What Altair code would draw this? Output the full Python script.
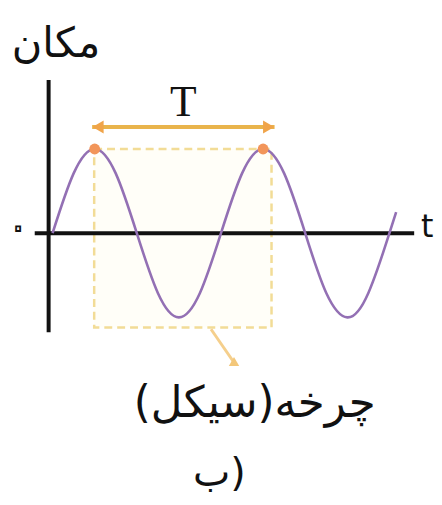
import altair as alt
import pandas as pd

# ---- data (chart units: t in periods, position in amplitudes) ----
wave_t = [0, 0.125, 0.25, 0.375, 0.5, 0.625, 0.75, 0.875, 1.0,
          1.125, 1.25, 1.375, 1.5, 1.625, 1.75, 1.875, 2.0, 2.04]
wave_y = [0, 0.71, 1.0, 0.71, 0, -0.71, -1.0, -0.71, 0,
          0.71, 1.0, 0.71, 0, -0.71, -1.0, -0.71, 0, 0.25]

peak_t = [0.25, 1.25]
peak_y = [1.0, 1.0]

# period box (one cycle)
box_t = [0.247, 1.30]
box_y = [1.0, -1.12]

# T arrow
arrow_t = [0.235, 1.318]
arrow_y = 1.26

# axes extents
yaxis_t = -0.0235
yaxis_y = [1.82, -1.176]
xaxis_t = [-0.106, 2.147]

# connector from box to label
conn_t = [0.941, 1.075]
conn_y = [-1.141, -1.53]

labels = [
    {"t": 0.776, "y": 1.55, "text": "T"},
]
fa_labels = [
    {"t": 0.02, "y": 2.25, "text": "مکان", "size": 42},
    {"t": 1.20, "y": -2.03, "text": "چرخه(سیکل)", "size": 44},
    {"t": 0.99, "y": -2.86, "text": "ب)", "size": 40},
]
zero_label = {"t": -45 / 170, "y": 0.06, "text": "۰"}
t_label = {"t": 2.225, "y": 0.07, "text": "t"}

# ---- scales ----
X = alt.Scale(domain=[-45 / 170, 385 / 170], nice=False, zero=False)
Y = alt.Scale(domain=[(233 - 497) / 85, 225 / 85], nice=False, zero=False)


def xe(field="t"):
    return alt.X(f"{field}:Q", scale=X, axis=None)


def ye(field="y"):
    return alt.Y(f"{field}:Q", scale=Y, axis=None)


wave_df = pd.DataFrame({"t": wave_t, "y": wave_y})
peak_df = pd.DataFrame({"t": peak_t, "y": peak_y})
box_df = pd.DataFrame({"t": [box_t[0]], "t2": [box_t[1]], "y": [box_y[0]], "y2": [box_y[1]]})
arrow_df = pd.DataFrame({"t": [arrow_t[0]], "t2": [arrow_t[1]], "y": [arrow_y]})
heads_df = pd.DataFrame({"t": [arrow_t[0] + 0.035, arrow_t[1] - 0.035], "y": [arrow_y, arrow_y],
                         "shape": ["triangle-left", "triangle-right"]})
yaxis_df = pd.DataFrame({"t": [yaxis_t], "y": [yaxis_y[0]], "y2": [yaxis_y[1]]})
xaxis_df = pd.DataFrame({"t": [xaxis_t[0]], "t2": [xaxis_t[1]], "y": [0.0]})
conn_df = pd.DataFrame({"t": [conn_t[0]], "t2": [conn_t[1]], "y": [conn_y[0]], "y2": [conn_y[1]]})
conn_head_df = pd.DataFrame({"t": [conn_t[1] + 0.01], "y": [conn_y[1] - 0.02]})

box = alt.Chart(box_df).mark_rect(fill="#fffbea", fillOpacity=0.35, stroke="#f2dc96",
                                  strokeWidth=2.5, strokeDash=[8, 5]).encode(
    x=xe(), x2="t2:Q", y=ye(), y2="y2:Q")

xaxis = alt.Chart(xaxis_df).mark_rule(color="#111111", strokeWidth=4).encode(
    x=xe(), x2="t2:Q", y=ye())
yaxis = alt.Chart(yaxis_df).mark_rule(color="#111111", strokeWidth=4).encode(
    x=xe(), y=ye(), y2="y2:Q")

wave = alt.Chart(wave_df).mark_line(color="#9370b4", strokeWidth=2.6, interpolate="natural").encode(
    x=xe(), y=ye())

peaks = alt.Chart(peak_df).mark_point(filled=True, color="#f2955a", size=120, opacity=1).encode(
    x=xe(), y=ye())

arrow = alt.Chart(arrow_df).mark_rule(color="#e9b44c", strokeWidth=4).encode(
    x=xe(), x2="t2:Q", y=ye())
heads = alt.Chart(heads_df).mark_point(filled=True, color="#f0a44a", size=170, opacity=1).encode(
    x=xe(), y=ye(), shape=alt.Shape("shape:N", scale=None, legend=None))

conn = alt.Chart(conn_df).mark_rule(color="#f5cf8c", strokeWidth=3).encode(
    x=xe(), x2="t2:Q", y=ye(), y2="y2:Q")
conn_head = alt.Chart(conn_head_df).mark_point(filled=True, shape="triangle-right", color="#f3c77a",
                                               size=110, opacity=1, angle=30).encode(
    x=xe(), y=ye())

t_text = alt.Chart(pd.DataFrame(labels)).mark_text(font="Liberation Serif", fontSize=44,
                                                   color="#111111", baseline="middle").encode(
    x=xe(), y=ye(), text="text:N")
fa_text = alt.Chart(pd.DataFrame(fa_labels)).mark_text(font="DejaVu Sans", dir="rtl",
                                                       color="#111111", baseline="middle").encode(
    x=xe(), y=ye(), text="text:N", size=alt.Size("size:Q", scale=None, legend=None))
zero_text = alt.Chart(pd.DataFrame([zero_label])).mark_text(font="DejaVu Sans", fontSize=38,
                                                            align="left",
                                                            fill="#ffffff", stroke="#111111",
                                                            strokeWidth=1.8, baseline="middle").encode(
    x=xe(), y=ye(), text="text:N")
tt_text = alt.Chart(pd.DataFrame([t_label])).mark_text(font="DejaVu Sans", fontSize=32,
                                                       color="#111111", baseline="middle").encode(
    x=xe(), y=ye(), text="text:N")

chart = alt.layer(box, conn, conn_head, xaxis, yaxis, wave, peaks, arrow, heads,
                  t_text, fa_text, zero_text, tt_text).properties(
    width=430, height=489, padding=0,
    autosize=alt.AutoSizeParams(type="none"),
).configure_view(stroke=None)

chart.save("out.html", embed_options={"renderer": "svg", "actions": False})
